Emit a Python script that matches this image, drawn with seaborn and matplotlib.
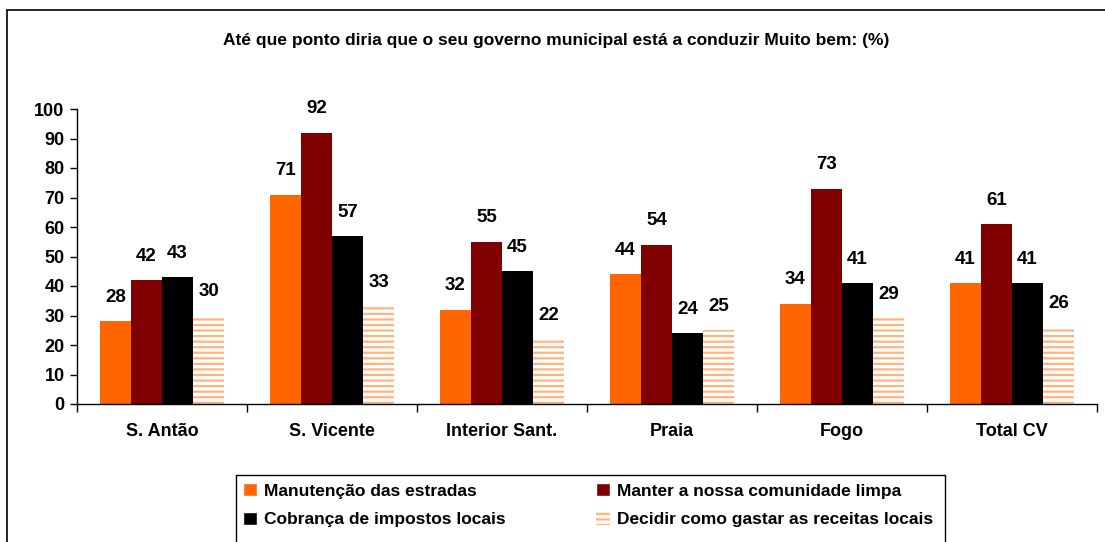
import numpy as np
import pandas as pd
import seaborn as sns
from matplotlib import pyplot as plt
from matplotlib.lines import Line2D
from matplotlib.patches import Patch

regions = ['S. Antão', 'S. Vicente', 'Interior Sant.', 'Praia', 'Fogo', 'Total CV']
series = ['Manutenção das estradas', 'Manter a nossa comunidade limpa',
          'Cobrança de impostos locais', 'Decidir como gastar as receitas locais']
estradas = [28, 71, 32, 44, 34, 41]
limpa = [42, 92, 55, 54, 73, 61]
impostos = [43, 57, 45, 24, 41, 41]
receitas = [30, 33, 22, 25, 29, 26]
title = 'Até que ponto diria que o seu governo municipal está a conduzir Muito bem: (%)'

colors = ['#FF6600', '#800000', '#000000', '#FFFFFF']
stripe = '#FFB37F'

sns.set_style('white')
plt.rcParams['font.family'] = ['Liberation Sans', 'DejaVu Sans']
plt.rcParams['font.weight'] = 'bold'
plt.rcParams['text.color'] = 'black'
plt.rcParams['xtick.color'] = 'black'
plt.rcParams['ytick.color'] = 'black'
plt.rcParams['hatch.linewidth'] = 1.6
plt.rcParams['hatch.color'] = stripe

df = pd.DataFrame({
    'region': regions * 4,
    'serie': np.repeat(series, len(regions)),
    'value': estradas + limpa + impostos + receitas,
})

fig = plt.figure(figsize=(11.05, 5.42), dpi=100)
ax = fig.add_axes([77 / 1105, 1 - 404 / 542, 1020 / 1105, 295 / 542])
sns.barplot(data=df, x='region', y='value', hue='serie', order=regions, hue_order=series,
            palette=colors, width=0.73, gap=0, saturation=1, linewidth=0, ax=ax, legend=False)

# striped series: white bars with peach horizontal lines
for bar in ax.containers[3]:
    bar.set_hatch('---')
    bar.set_edgecolor(stripe)
    bar.set_facecolor('white')
    bar.set_linewidth(0)

for cont in ax.containers:
    ax.bar_label(cont, fmt='%d', padding=11, fontsize=13.5, fontweight='bold', color='black')

ax.set_ylim(0, 100)
ax.set_xlim(-0.5, 5.5)
ax.set_yticks(range(0, 101, 10))
ax.set_xticks(np.arange(-0.5, 6, 1))
ax.set_xticklabels([])
ax.set_xticks(range(6), regions, minor=True)
ax.tick_params(axis='x', which='major', length=6, width=1, direction='out', bottom=True)
ax.tick_params(axis='x', which='minor', length=0, pad=14, labelsize=13)
ax.tick_params(axis='y', length=5, width=1, direction='out', left=True, labelsize=13, pad=4)
ax.set_xlabel('')
ax.set_ylabel('')
for side in ['top', 'right']:
    ax.spines[side].set_visible(False)
for side in ['left', 'bottom']:
    ax.spines[side].set_color('black')
    ax.spines[side].set_linewidth(1)

fig.text(556 / 1105, 1 - 40 / 542, title, ha='center', va='center', fontsize=12.5, fontweight='bold')

# outer frame (left and top visible)
fig.add_artist(Line2D([7 / 1105, 7 / 1105], [0, 1 - 10 / 542], color='black', lw=1.2))
fig.add_artist(Line2D([7 / 1105, 1], [1 - 10 / 542, 1 - 10 / 542], color='black', lw=1.2))

# legend
handles = [Patch(facecolor=colors[0]), Patch(facecolor=colors[2]),
           Patch(facecolor=colors[1]),
           Patch(facecolor='white', edgecolor=stripe, hatch='---', linewidth=0)]
labels = [series[0], series[2], series[1], series[3]]
leg = fig.legend(handles, labels, loc='upper left', bbox_to_anchor=(236 / 1105, 1 - 476 / 542),
                 ncol=2, frameon=False, fontsize=12.5, handlelength=0.8, handleheight=0.8,
                 handletextpad=0.4, columnspacing=5.2, labelspacing=0.75, borderaxespad=0)
lx0, lx1, ly = 236 / 1105, 945 / 1105, 1 - 475 / 542
fig.add_artist(Line2D([lx0, lx0], [0, ly], color='black', lw=1))
fig.add_artist(Line2D([lx0, lx1], [ly, ly], color='black', lw=1))
fig.add_artist(Line2D([lx1, lx1], [0, ly], color='black', lw=1))

fig.savefig('out.png', dpi=100)
